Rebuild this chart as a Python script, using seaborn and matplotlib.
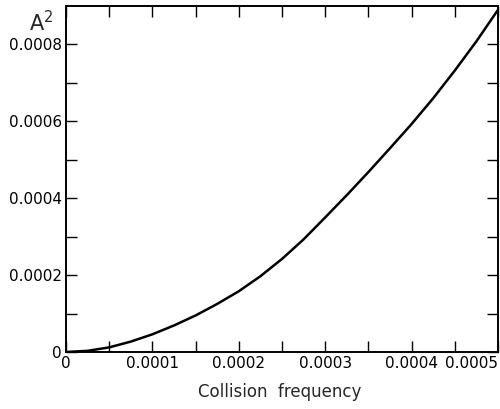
import numpy as np
import pandas as pd
import matplotlib
matplotlib.use("Agg")
import matplotlib.pyplot as plt
import seaborn as sns

sns.set_style("ticks")
plt.rcParams['font.family'] = ['DejaVu Sans']

# values
collision_freq = [0, 0.000025, 0.00005, 0.000075, 0.0001, 0.000125, 0.00015, 0.000175,
                  0.0002, 0.000225, 0.00025, 0.000275, 0.0003, 0.000325, 0.00035,
                  0.000375, 0.0004, 0.000425, 0.00045, 0.000475, 0.0005]
a_squared = [0, 0.000003, 0.000012, 0.000027, 0.000046, 0.000069, 0.000095, 0.000125,
             0.000158, 0.000197, 0.000242, 0.000293, 0.000350, 0.000408, 0.000468,
             0.000530, 0.000593, 0.000660, 0.000732, 0.000808, 0.000890]

x_ticks = [0, 0.0001, 0.0002, 0.0003, 0.0004, 0.0005]
x_ticklabels = ["0", "0.0001", "0.0002", "0.0003", "0.0004", "0.0005"]
x_minor = [0.00005, 0.00015, 0.00025, 0.00035, 0.00045]
y_ticks = [0, 0.0002, 0.0004, 0.0006, 0.0008]
y_ticklabels = ["0", "0.0002", "0.0004", "0.0006", "0.0008"]
y_minor = [0.0001, 0.0003, 0.0005, 0.0007]

df = pd.DataFrame({"freq": collision_freq, "A2": a_squared})

fig = plt.figure(figsize=(5, 4.09), dpi=100)
ax = fig.add_axes([0.132, 0.1394, 0.864, 0.846])

sns.lineplot(data=df, x="freq", y="A2", ax=ax, color="black", linewidth=1.8)

ax.set_xlim(0, 0.0005)
ax.set_ylim(0, 0.0009)
ax.set_xticks(x_ticks)
ax.set_xticklabels(x_ticklabels)
ax.set_xticks(x_minor, minor=True)
ax.set_yticks(y_ticks)
ax.set_yticklabels(y_ticklabels)
ax.set_yticks(y_minor, minor=True)

for which in ("major", "minor"):
    ax.tick_params(axis="both", which=which, direction="in", length=8, width=1.0,
                   top=True, right=True, color="black")
ax.tick_params(axis="both", which="major", labelsize=11, pad=3, labelcolor="black")

# last x label sits flush with the right edge
ax.get_xticklabels()[-1].set_horizontalalignment("right")

for sp in ax.spines.values():
    sp.set_visible(True)
    sp.set_linewidth(1.4)
    sp.set_color("black")

ax.set_ylabel("")
ax.set_xlabel("Collision  frequency", fontsize=12)
ax.xaxis.set_label_coords(0.495, -0.09)
fig.text(0.082, 0.945, "A$^2$", fontsize=15, ha="center", va="center")

fig.savefig("out.png", dpi=100)
